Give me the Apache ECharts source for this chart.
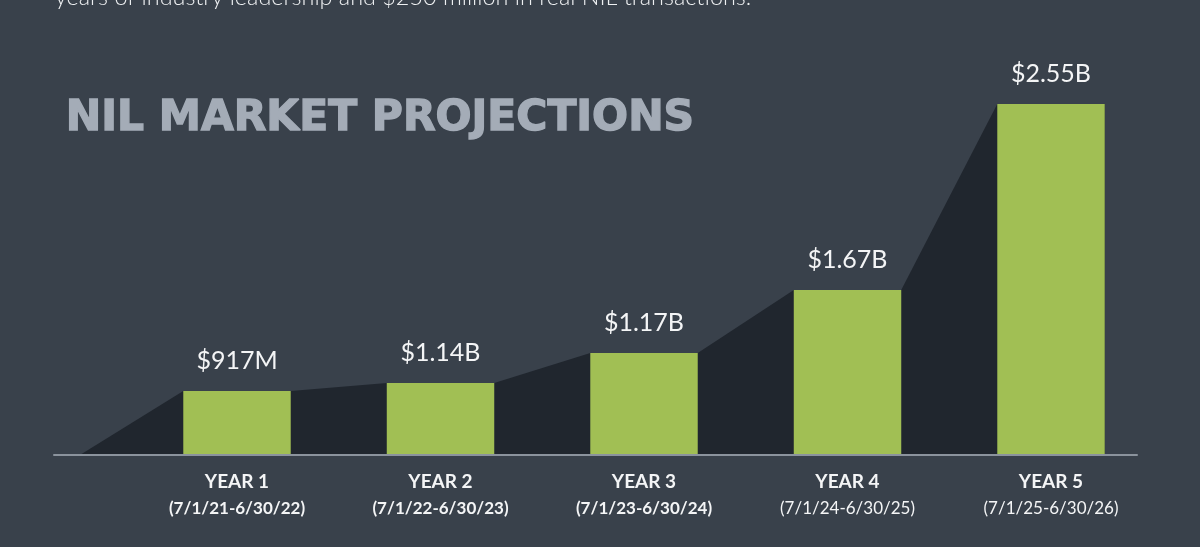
<!DOCTYPE html>
<html>
<head>
<meta charset="utf-8">
<script src="https://cdn.jsdelivr.net/npm/echarts@6/dist/echarts.min.js"></script>
<style>
html,body{margin:0;padding:0;background:#39414b;}
#chart{width:1200px;height:547px;}
</style>
</head>
<body>
<div id="chart"></div>
<script>
// Data
var years = ['YEAR 1', 'YEAR 2', 'YEAR 3', 'YEAR 4', 'YEAR 5'];
var ranges = ['(7/1/21-6/30/22)', '(7/1/22-6/30/23)', '(7/1/23-6/30/24)', '(7/1/24-6/30/25)', '(7/1/25-6/30/26)'];
var valuesBillion = [0.917, 1.14, 1.17, 1.67, 2.55];
// Drawn bar heights as they appear in the picture (bars are not to scale)
var barHeights = [63, 71, 101, 164, 350];

var BAR_RATIO = 0.528;

function fmtValue(v) {
  return v < 1 ? '$' + Math.round(v * 1000) + 'M' : '$' + v.toFixed(2) + 'B';
}

var chart = echarts.init(document.getElementById('chart'), null, {renderer: 'canvas'});

var option = {
  backgroundColor: '#39414b',
  animation: false,
  graphic: [
    {
      type: 'text', left: 55, top: -14, z: 10,
      style: {
        text: 'years of industry leadership and $250 million in real NIL transactions.',
        font: '300 23.4px Lato', fill: '#eef0f2'
      }
    },
    {
      type: 'text', left: 65, top: 97, z: 10,
      style: {
        text: 'NIL MARKET PROJECTIONS',
        font: 'bold 42.4px "DejaVu Sans"', fill: '#a4acb7',
        stroke: '#a4acb7', lineWidth: 1.4
      }
    }
  ],
  grid: [
    {left: 135.25, right: 47.25, top: 54, bottom: 93},
    {left: 54, right: 63, top: 54, bottom: 92}
  ],
  xAxis: [
    {
      type: 'category', gridIndex: 0, data: years, boundaryGap: true,
      axisLine: {show: false}, axisTick: {show: false},
      axisLabel: {
        margin: 14,
        formatter: function (value, index) {
          return '{y|' + value + '}\n{' + (index < 3 ? 'db' : 'd') + '|' + ranges[index] + '}';
        },
        rich: {
          y: {fontFamily: 'Lato', fontWeight: 'bold', fontSize: 19, color: '#f4f5f6', lineHeight: 28, align: 'center'},
          db: {fontFamily: 'Lato', fontWeight: 'bold', fontSize: 17, color: '#f4f5f6', lineHeight: 26, align: 'center'},
          d: {fontFamily: 'Lato', fontWeight: 'normal', fontSize: 17, color: '#f4f5f6', lineHeight: 26, align: 'center'}
        }
      }
    },
    {
      type: 'value', gridIndex: 1, min: 0, max: 1,
      axisLine: {show: true, onZero: false, lineStyle: {color: '#8b939d', width: 2}},
      axisTick: {show: false}, axisLabel: {show: false}, splitLine: {show: false}
    }
  ],
  yAxis: [
    {type: 'value', gridIndex: 0, min: 0, max: 400, show: false, splitLine: {show: false}},
    {type: 'value', gridIndex: 1, min: 0, max: 1, show: false, splitLine: {show: false}}
  ],
  series: [
    {
      type: 'custom', xAxisIndex: 0, yAxisIndex: 0, z: 1,
      data: barHeights.map(function (h, i) { return [i, h]; }),
      renderItem: function (params, api) {
        var i = api.value(0);
        var cw = api.size([1, 0])[0];
        var bw = cw * BAR_RATIO;
        var cur = api.coord([i, api.value(1)]);
        var base = api.coord([i, 0])[1];
        var curLeft = cur[0] - bw / 2, curRight = cur[0] + bw / 2;
        var px, py;
        if (i === 0) {
          px = curLeft - cw / 2; py = base;
        } else {
          var p = api.coord([i - 1, barHeights[i - 1]]);
          px = p[0] + bw / 2; py = p[1];
        }
        return {
          type: 'polygon',
          shape: {points: [[px, py], [curLeft, cur[1]], [curRight, cur[1]], [curRight, base], [px, base]]},
          style: {fill: '#20262e'}
        };
      }
    },
    {
      type: 'bar', xAxisIndex: 0, yAxisIndex: 0, z: 3,
      barWidth: (BAR_RATIO * 100) + '%',
      data: barHeights,
      itemStyle: {color: '#a1bf54'},
      label: {
        show: true, position: 'top', distance: 18,
        formatter: function (p) { return fmtValue(valuesBillion[p.dataIndex]); },
        fontFamily: 'Lato', fontSize: 25, color: '#f4f5f6', lineHeight: 25
      }
    },
    {
      type: 'line', xAxisIndex: 1, yAxisIndex: 1, data: [], silent: true
    }
  ]
};
chart.setOption(option);
</script>
</body>
</html>
